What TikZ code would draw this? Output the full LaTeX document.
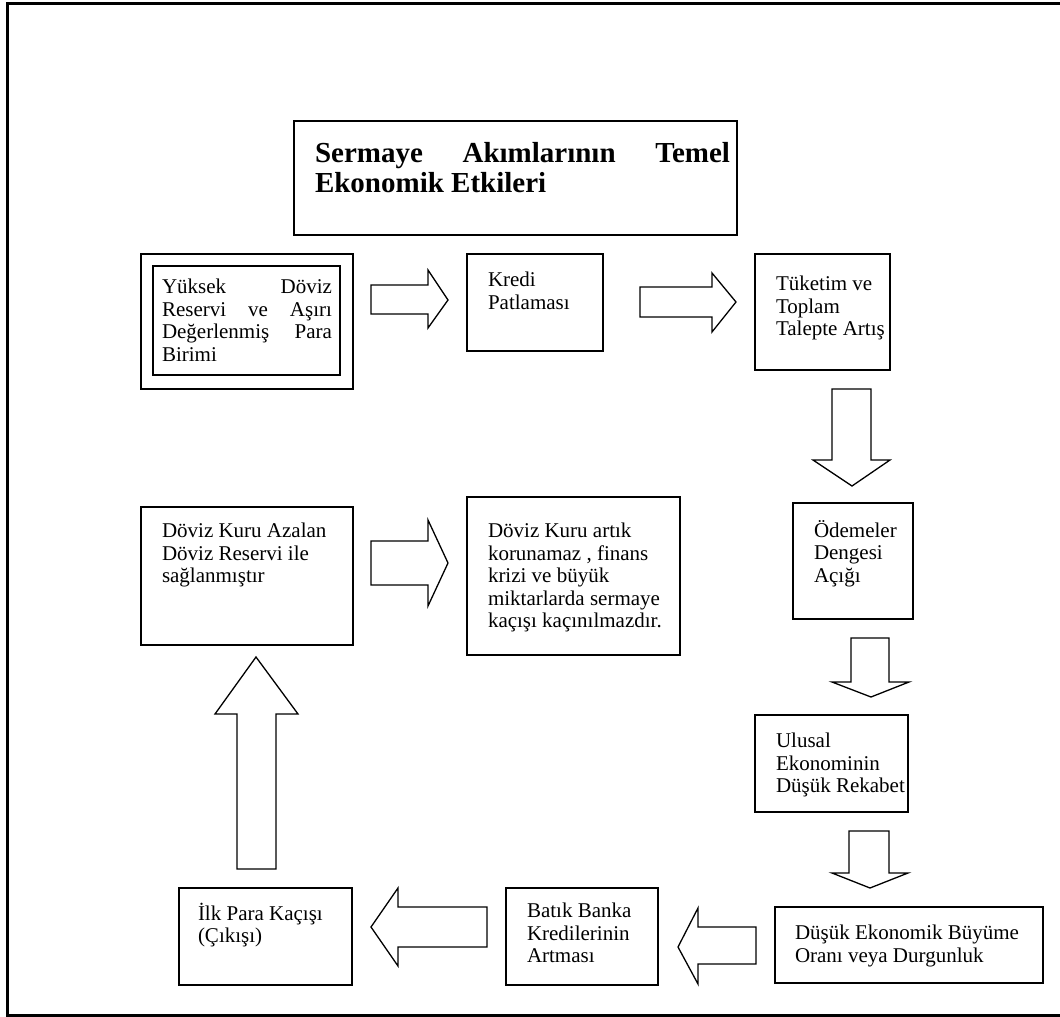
\documentclass[tikz,border=0pt]{standalone}
\usepackage{fontspec}
\setmainfont{Liberation Serif}
\begin{document}
\begin{tikzpicture}[x=1pt,y=-1pt,
  box/.style={draw, line width=1.3pt, inner sep=0pt, outer sep=0pt, anchor=north west},
  blockarrow/.style={draw, line width=1.3pt, line join=miter, fill=white},
  txt/.style={inner sep=0pt, outer sep=0pt, anchor=north west, align=left,
    font=\fontsize{21}{22.5}\selectfont},
  jtxt/.style={txt, align=justify},
  ttl/.style={inner sep=0pt, outer sep=0pt, anchor=north west, align=justify,
    font=\fontsize{29}{30}\bfseries\selectfont, text width=415pt}
]
\useasboundingbox (0,0) rectangle (1060,1017);
% outer frame (right side runs off the page)
\draw[line width=2.8pt] (1062,3.5) -- (7.8,3.5) -- (7.8,1015.5) -- (1062,1015.5);

% title
\node[box, minimum width=443pt, minimum height=114pt] (title) at (294,121) {};
\node[ttl] (titletext) at (315,141) {\strut Sermaye Akımlarının Temel\linebreak Ekonomik Etkileri};

% boxes
\node[box, minimum width=212pt, minimum height=135pt] (b1o) at (141,254) {};
\node[box, line width=2.2pt, minimum width=187pt, minimum height=109pt] (b1i) at (153,266) {};
\node[box, minimum width=136pt, minimum height=97pt] (kredi) at (467,254) {};
\node[box, minimum width=135pt, minimum height=116pt] (tuketim) at (755,254) {};
\node[box, minimum width=120pt, minimum height=116pt] (odemeler) at (793,503) {};
\node[box, minimum width=153pt, minimum height=97pt] (ulusal) at (755,715) {};
\node[box, minimum width=268pt, minimum height=76pt] (dusuk) at (775,907) {};
\node[box, minimum width=152pt, minimum height=97pt] (batik) at (506,888) {};
\node[box, minimum width=173pt, minimum height=97pt] (ilk) at (179,888) {};
\node[box, minimum width=212pt, minimum height=138pt] (azalan) at (141,507) {};
\node[box, minimum width=213pt, minimum height=158pt] (kriz) at (467,497) {};

% texts (north = first baseline - 15.75)
\node[jtxt, text width=170pt] (t1) at (162,278) {\strut Yüksek Döviz\linebreak Reservi ve Aşırı\linebreak Değerlenmiş Para\linebreak Birimi};
\node[txt] (t2) at (488,271) {\strut Kredi\\Patlaması};
\node[txt] (t3) at (776,275) {\strut Tüketim ve\\Toplam\\Talepte Artış};
\node[txt] (t4) at (814,520) {\strut Ödemeler\\Dengesi\\Açığı};
\node[txt] (t5) at (776,732) {\strut Ulusal\\Ekonominin\\Düşük Rekabet};
\node[txt] (t6) at (795,924) {\strut Düşük Ekonomik Büyüme\\Oranı veya Durgunluk};
\node[txt] (t7) at (527,902) {\strut Batık Banka\\Kredilerinin\\Artması};
\node[txt] (t8) at (198,903) {\strut İlk Para Kaçışı\\(Çıkışı)};
\node[txt] (t9) at (162,522) {\strut Döviz Kuru Azalan\\Döviz Reservi ile\\sağlanmıştır};
\node[txt] (t10) at (488,522) {\strut Döviz Kuru artık\\korunamaz , finans\\krizi ve büyük\\miktarlarda sermaye\\kaçışı kaçınılmazdır.};

% block arrows
\draw[blockarrow] (371,285) -- (428,285) -- (428,270) -- (448,300) -- (428,328) -- (428,314) -- (371,314) -- cycle;
\draw[blockarrow] (640,287) -- (712,287) -- (712,273) -- (736,302) -- (712,332) -- (712,317) -- (640,317) -- cycle;
\draw[blockarrow] (832,389) -- (871,389) -- (871,460) -- (890,460) -- (852,486) -- (813,460) -- (832,460) -- cycle;
\draw[blockarrow] (851,638) -- (889,638) -- (889,682) -- (909,682) -- (871,697) -- (832,682) -- (851,682) -- cycle;
\draw[blockarrow] (849,831) -- (889,831) -- (889,873) -- (908,873) -- (870,888) -- (832,873) -- (849,873) -- cycle;
\draw[blockarrow] (756,927) -- (698,927) -- (698,908) -- (678,947) -- (698,984) -- (698,964) -- (756,964) -- cycle;
\draw[blockarrow] (487,907) -- (398,907) -- (398,888) -- (371,927) -- (398,966) -- (398,947) -- (487,947) -- cycle;
\draw[blockarrow] (237,869) -- (237,714) -- (215,714) -- (256,657) -- (298,714) -- (276,714) -- (276,869) -- cycle;
\draw[blockarrow] (371,541) -- (428,541) -- (428,520) -- (448,563) -- (428,606) -- (428,585) -- (371,585) -- cycle;
\end{tikzpicture}
\end{document}
